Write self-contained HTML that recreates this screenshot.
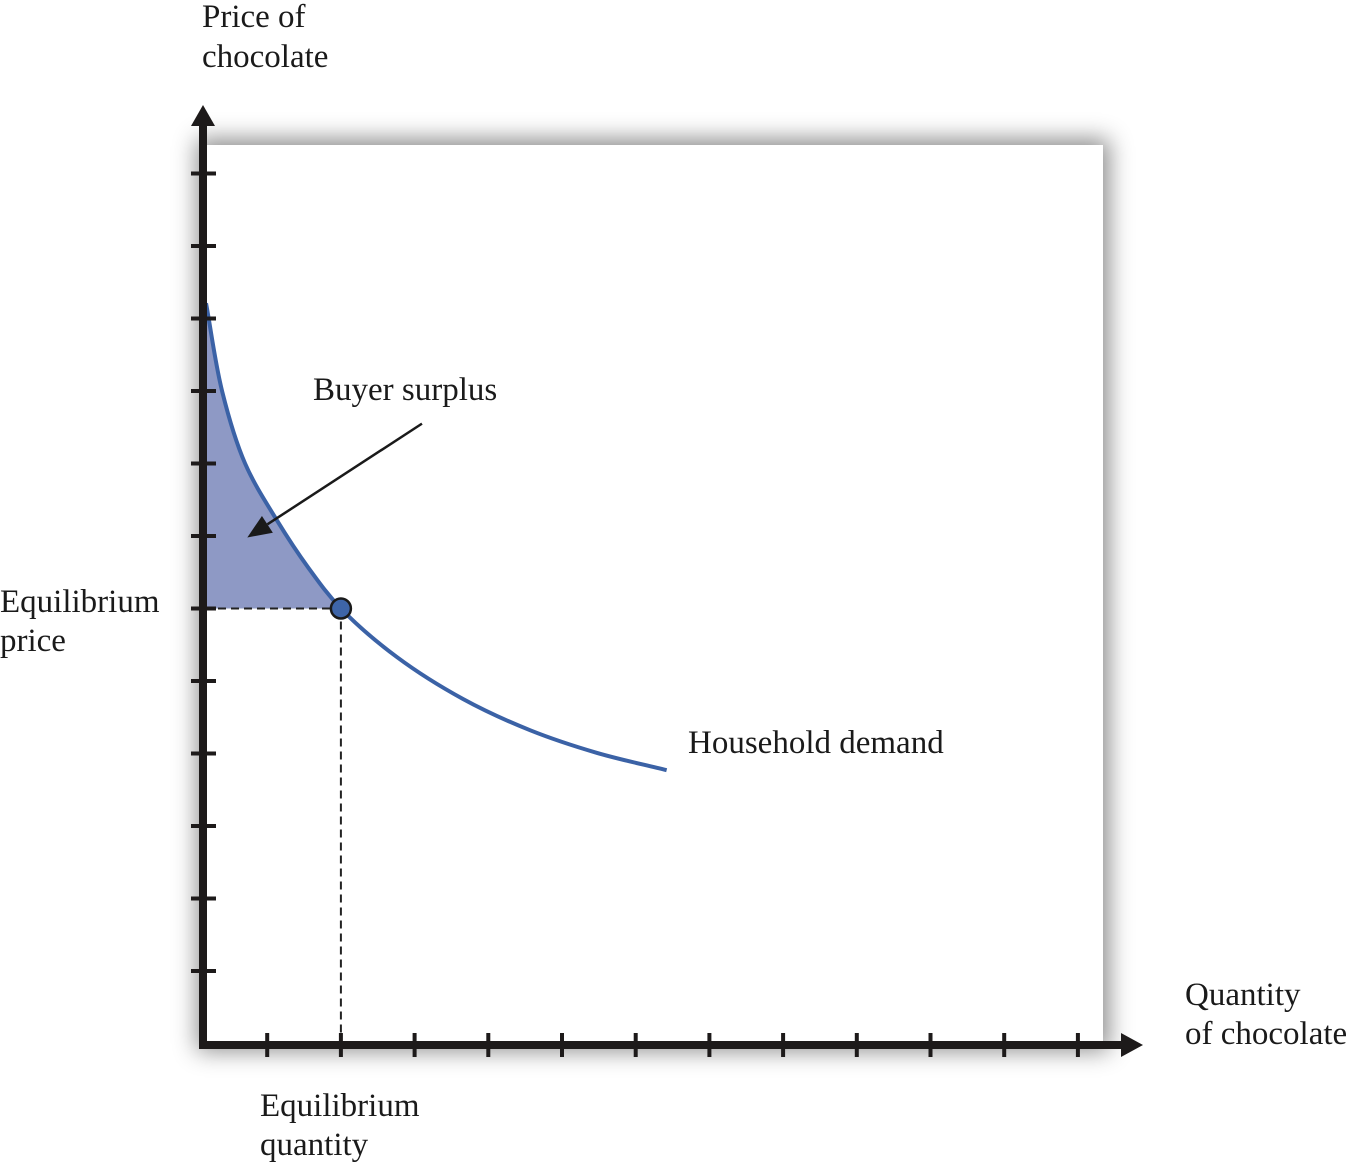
<!DOCTYPE html>
<html><head><meta charset="utf-8"><style>
html,body{margin:0;padding:0;background:#fff;width:1349px;height:1166px;overflow:hidden;position:relative}
#plotbox{position:absolute;left:203px;top:145px;width:900px;height:900px;background:#fff;box-shadow:0 0 22px 6px rgba(0,0,0,0.45)}
svg{position:absolute;left:0;top:0}
text{font-family:"Liberation Serif",serif;font-size:33px;fill:#1a1a1a}
</style></head><body>
<div id="plotbox"></div>
<svg id="chart" width="1349" height="1166">
<text x="202" y="27">Price of</text>
<text x="202" y="67">chocolate</text>
<text x="1185" y="1005">Quantity</text>
<text x="1185" y="1044">of chocolate</text>
<text x="0" y="612">Equilibrium</text>
<text x="0" y="651">price</text>
<text x="260" y="1116">Equilibrium</text>
<text x="260" y="1155">quantity</text>
<text x="313" y="400">Buyer surplus</text>
<text x="688" y="753">Household demand</text>
<g id="marks"></g>
</svg>
<script>
const demandQ=[0.17,0.39,0.70,1.13,1.56,2.00,2.76,3.66,4.57,5.47,6.42];
const demandP=[10.21,8.99,8.00,7.22,6.56,6.00,5.33,4.75,4.32,4.01,3.77];
const eqQ=2.0;
const eqP=6.0;
const xTicks=[1,2,3,4,5,6,7,8,9,10,11,12];
const yTicks=[1,2,3,4,5,6,7,8,9,10,11,12];
const annotFrom=[3.1,8.55];
const annotTo=[0.73,6.98];

const xS=q=>193.5+73.7*q;
const yS=p=>1043.5-72.5*p;
const NS='http://www.w3.org/2000/svg';
const g=document.getElementById('marks');
function mk(tag,attrs){const e=document.createElementNS(NS,tag);for(const k in attrs)e.setAttribute(k,attrs[k]);g.appendChild(e);return e;}

const pts=demandQ.map((q,i)=>[xS(q),yS(demandP[i])]);
function spline(P){
  const dist=(a,b)=>Math.pow(Math.hypot(b[0]-a[0],b[1]-a[1]),0.5)||1e-6;
  let d='M'+P[0][0]+','+P[0][1];
  for(let i=0;i<P.length-1;i++){
    const p1=P[i],p2=P[i+1];
    const p0=i>0?P[i-1]:[2*p1[0]-p2[0],2*p1[1]-p2[1]];
    const p3=i+2<P.length?P[i+2]:[2*p2[0]-p1[0],2*p2[1]-p1[1]];
    const d1=dist(p0,p1),d2=dist(p1,p2),d3=dist(p2,p3);
    const m1=[0,1].map(k=>(p2[k]-p1[k]) + d2*((p1[k]-p0[k])/d1 - (p2[k]-p0[k])/(d1+d2)));
    const m2=[0,1].map(k=>(p2[k]-p1[k]) + d2*((p3[k]-p2[k])/d3 - (p3[k]-p1[k])/(d2+d3)));
    const c1=[p1[0]+m1[0]/3,p1[1]+m1[1]/3],c2=[p2[0]-m2[0]/3,p2[1]-m2[1]/3];
    d+=' C'+c1+' '+c2+' '+p2;
  }
  return d;
}
const ei=demandQ.indexOf(eqQ);
const fillPts=pts.slice(0,ei+1);
let fd=spline(fillPts)+' L'+203+','+yS(eqP)+' L203,'+fillPts[0][1]+' Z';
let e;
e=mk('path',{d:fd,fill:'#8e99c5'});



e=mk('line',{x1:205,y1:yS(eqP),x2:xS(eqQ),y2:yS(eqP),stroke:'#222','stroke-width':2,'stroke-dasharray':'8,5'});


e=mk('line',{x1:xS(eqQ),y1:yS(eqP),x2:xS(eqQ),y2:1042,stroke:'#222','stroke-width':2,'stroke-dasharray':'8,5'});



e=mk('path',{d:spline(pts),fill:'none',stroke:'#3b62a6','stroke-width':4});



xTicks.forEach(t=>{const el=mk('line',{x1:xS(t),y1:1033,x2:xS(t),y2:1057,stroke:'#1d1a1a','stroke-width':4});

});
yTicks.forEach(t=>{const el=mk('line',{x1:191,y1:yS(t),x2:216,y2:yS(t),stroke:'#1d1a1a','stroke-width':4});

});

e=mk('line',{x1:203,y1:125,x2:203,y2:1049,stroke:'#1d1a1a','stroke-width':8});


e=mk('polygon',{points:'203,105 191,126 215,126',fill:'#1d1a1a'});


e=mk('line',{x1:199,y1:1045,x2:1124,y2:1045,stroke:'#1d1a1a','stroke-width':8});


e=mk('polygon',{points:'1143,1045 1121,1033 1121,1057',fill:'#1d1a1a'});



e=mk('circle',{cx:xS(eqQ),cy:yS(eqP),r:10,fill:'#3e65a8',stroke:'#1a1a1a','stroke-width':2.5});



const ax1=xS(annotFrom[0]),ay1=yS(annotFrom[1]),ax2=xS(annotTo[0]),ay2=yS(annotTo[1]);
const ang=Math.atan2(ay2-ay1,ax2-ax1),L=24,W=10;
const bx=ax2-L*Math.cos(ang),by=ay2-L*Math.sin(ang);
e=mk('line',{x1:ax1,y1:ay1,x2:bx,y2:by,stroke:'#1a1a1a','stroke-width':2.5});


e=mk('polygon',{points:[ax2,ay2,bx+W*Math.sin(ang),by-W*Math.cos(ang),bx-W*Math.sin(ang),by+W*Math.cos(ang)].join(','),fill:'#1a1a1a'});


</script>
</body></html>
